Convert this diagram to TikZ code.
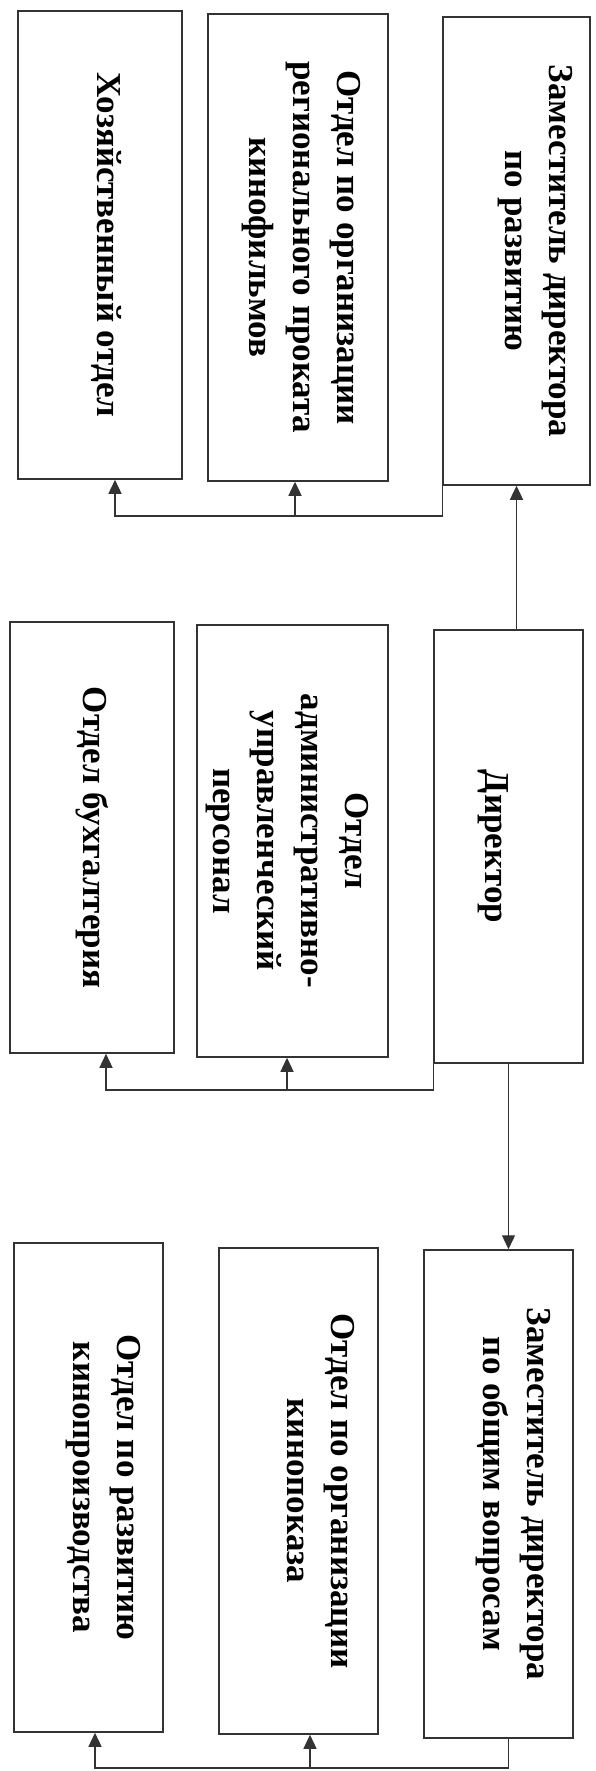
\documentclass[tikz,border=0pt]{standalone}
\usepackage{fontspec}
\setmainfont{Liberation Serif}
\usepackage{graphicx}
\usetikzlibrary{arrows.meta, positioning}
\newcommand{\vtext}[2][0pt]{\rotatebox{-90}{\raisebox{#1}[\height][\depth]{\begin{tabular}{@{}c@{}}#2\end{tabular}}}}

\begin{document}
\begin{tikzpicture}[
    x=1pt, y=-1pt,
    every node/.style={font=\fontsize{35}{44}\selectfont\bfseries},
    unit/.style 2 args={draw=black!80, line width=1.5pt, rectangle, inner sep=0pt, fill=white, minimum width=#1, minimum height=#2},
    >={Triangle[length=14pt, width=13pt]}
]
\useasboundingbox (0,0) rectangle (596,1771);

% Head nodes
\node[unit={147pt}{468pt}] (zamRazv) at (516.5,251) {\vtext[20pt]{Заместитель директора\\ по развитию}};
\node[unit={149pt}{433pt}] (director) at (508.5,846.5) {\vtext[-14pt]{Директор}};
\node[unit={149pt}{488pt}] (zamObsh) at (498.5,1494) {\vtext[16pt]{Заместитель директора\\ по общим вопросам}};

% Middle column nodes
\node[unit={180pt}{467pt}] (otdProkat) at (298,247.5) {\vtext[4pt]{Отдел по организации\\ регионального проката\\ кинофильмов}};
\node[unit={191pt}{432pt}] (otdAUP) at (292.5,841) {\vtext[-4pt]{Отдел\\ административно-\\ управленческий\\ персонал}};
\node[unit={159pt}{486pt}] (otdPokaz) at (298.5,1491) {\vtext[20pt]{Отдел по организации\\ кинопоказа}};

% Left column nodes
\node[unit={164pt}{468pt}] (otdHoz) at (100,245) {\vtext[6pt]{Хозяйственный отдел}};
\node[unit={164pt}{431pt}] (otdBuh) at (92,837.5) {\vtext{Отдел бухгалтерия}};
\node[unit={149pt}{489pt}] (otdProizv) at (88.5,1487.5) {\vtext[16pt]{Отдел по развитию\\ кинопроизводства}};

% Bus corners
\coordinate (busHoz) at (115,516);
\coordinate (busProkat) at (295,516);
\coordinate (busBuh) at (106,1090);
\coordinate (busAUP) at (287,1090);
\coordinate (busProizv) at (95,1768);
\coordinate (busPokaz) at (310,1768);

% Director edges
\draw[->,line width=1.3pt,black!80] (zamRazv.south |- director.north) -- (zamRazv.south);
\draw[->,line width=1.3pt,black!80] (director.south) -- (director.south |- zamObsh.north);

% Subordinate edges
\draw[->,line width=1.3pt,black!80] (zamRazv.south west) |- (busHoz) -- (busHoz |- otdHoz.south);
\draw[->,line width=1.3pt,black!80] (busProkat) -- (busProkat |- otdProkat.south);
\draw[->,line width=1.3pt,black!80] (director.south west) |- (busBuh) -- (busBuh |- otdBuh.south);
\draw[->,line width=1.3pt,black!80] (busAUP) -- (busAUP |- otdAUP.south);
\draw[->,line width=1.3pt,black!80] (director.south |- zamObsh.south) |- (busProizv) -- (busProizv |- otdProizv.south);
\draw[->,line width=1.3pt,black!80] (busPokaz) -- (busPokaz |- otdPokaz.south);
\end{tikzpicture}
\end{document}
